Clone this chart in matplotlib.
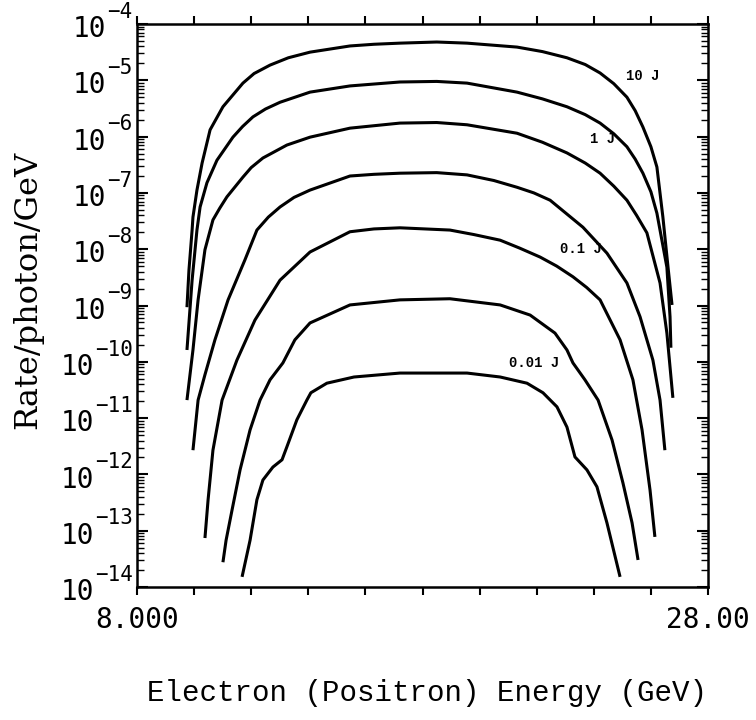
import numpy as np
import matplotlib.pyplot as plt
from matplotlib.ticker import LogLocator, NullFormatter

# energy (GeV) and log10(rate), one pair per curve (top to bottom)
e1 = [9.75, 9.82, 9.93, 9.96, 10.10, 10.28, 10.56, 11.01, 11.71, 12.10, 12.66, 13.30, 14.06, 15.46, 16.30,
      17.21, 18.5, 19.56, 21.31, 22.20, 23.06, 23.70, 24.22, 24.70, 25.16, 25.45, 25.72, 26.00, 26.21, 26.42,
      26.60, 26.74]
r1 = [-9.03, -8.37, -7.66, -7.43, -6.95, -6.47, -5.88, -5.47, -5.05, -4.88, -4.73, -4.60, -4.50, -4.39, -4.36,
      -4.34, -4.32, -4.34, -4.41, -4.49, -4.60, -4.72, -4.87, -5.06, -5.30, -5.54, -5.83, -6.18, -6.54, -7.43,
      -8.32, -8.99]

e2 = [9.75, 9.93, 10.10, 10.21, 10.45, 10.80, 11.36, 11.70, 12.06, 12.50, 13.01, 14.06, 15.46, 17.21, 18.5,
      19.56, 21.31, 22.20, 23.06, 23.70, 24.22, 24.70, 25.16, 25.45, 25.72, 26.00, 26.21, 26.56, 26.67, 26.70]
r2 = [-9.79, -8.55, -7.66, -7.25, -6.82, -6.42, -6.01, -5.82, -5.65, -5.51, -5.39, -5.21, -5.10, -5.03, -5.02,
      -5.05, -5.21, -5.33, -5.47, -5.61, -5.76, -5.95, -6.18, -6.40, -6.65, -6.98, -7.36, -8.32, -9.20, -9.75]

e3 = [9.75, 9.96, 10.14, 10.38, 10.66, 10.90, 11.15, 11.71, 12.00, 12.41, 13.25, 14.06, 15.46, 17.21, 18.5,
      19.56, 21.31, 22.20, 23.06, 23.70, 24.22, 24.70, 25.16, 25.50, 25.86, 26.32, 26.56, 26.77]
r3 = [-10.68, -9.79, -8.90, -8.01, -7.48, -7.27, -7.07, -6.72, -6.55, -6.38, -6.15, -6.01, -5.85, -5.76, -5.75,
      -5.79, -5.94, -6.10, -6.29, -6.47, -6.65, -6.88, -7.13, -7.40, -7.71, -8.60, -9.49, -10.64]

e4 = [9.96, 10.14, 10.38, 10.73, 11.19, 11.78, 12.20, 12.60, 13.01, 13.50, 14.06, 15.46, 16.30, 17.21, 18.5,
      19.56, 20.50, 21.31, 21.90, 22.47, 23.62, 24.46, 25.16, 25.62, 26.07, 26.32, 26.49]
r4 = [-11.57, -10.68, -10.23, -9.61, -8.90, -8.19, -7.66, -7.43, -7.25, -7.08, -6.95, -6.70, -6.67, -6.65, -6.64,
      -6.68, -6.78, -6.90, -7.00, -7.13, -7.61, -8.07, -8.60, -9.20, -9.97, -10.68, -11.57]

e5 = [10.38, 10.49, 10.66, 10.98, 11.50, 12.13, 13.01, 14.06, 15.46, 16.30, 17.21, 18.96, 19.80, 20.72, 21.40,
      22.12, 22.70, 23.27, 23.75, 24.22, 24.92, 25.37, 25.69, 25.97, 26.14]
r5 = [-13.13, -12.45, -11.57, -10.68, -9.97, -9.26, -8.55, -8.05, -7.69, -7.64, -7.62, -7.66, -7.74, -7.84, -7.98,
      -8.14, -8.30, -8.49, -8.68, -8.90, -9.61, -10.32, -11.21, -12.28, -13.11]

e6 = [11.01, 11.12, 11.33, 11.61, 11.96, 12.31, 12.66, 13.11, 13.53, 14.06, 15.46, 17.21, 18.96, 20.72,
      21.77, 22.64, 23.06, 23.27, 23.69, 24.15, 24.64, 25.02, 25.34, 25.55]
r6 = [-13.56, -13.17, -12.63, -11.92, -11.21, -10.68, -10.32, -10.02, -9.61, -9.31, -8.99, -8.90, -8.88, -8.99,
      -9.17, -9.49, -9.79, -10.02, -10.32, -10.68, -11.39, -12.15, -12.86, -13.52]

e7 = [11.68, 11.96, 12.20, 12.41, 12.76, 13.08, 13.25, 13.60, 13.95, 14.09, 14.65, 15.60, 17.21, 19.56,
      20.72, 21.66, 22.22, 22.71, 23.06, 23.34, 23.76, 24.11, 24.46, 24.92]
r7 = [-13.82, -13.17, -12.45, -12.10, -11.87, -11.74, -11.51, -11.03, -10.68, -10.55, -10.38, -10.27, -10.20, -10.20,
      -10.27, -10.38, -10.55, -10.80, -11.16, -11.69, -11.92, -12.22, -12.86, -13.82]

curves = [(e1, r1), (e2, r2), (e3, r3), (e4, r4), (e5, r5), (e6, r6), (e7, r7)]

# curve annotations: text, energy, log10(rate)
labels = ["10 J", "1 J", "0.1 J", "0.01 J"]
label_e = [25.72, 24.32, 23.55, 21.91]
label_r = [-4.92, -6.04, -8.00, -10.02]

decades = list(range(-14, -3))
x_ticks = list(range(8, 29, 2))
x_ticklabels = ["8.000"] + [""] * 9 + ["28.00"]

fig = plt.figure(figsize=(7.56, 7.2), dpi=100)
ax = fig.add_axes([137 / 756, 1 - 587 / 720, 571 / 756, 563 / 720])

for e, r in curves:
    ax.plot(e, 10.0 ** np.array(r), color="black", lw=2.2, solid_joinstyle="round", solid_capstyle="butt")

for t, e, r in zip(labels, label_e, label_r):
    ax.text(e, 10.0 ** r, t, ha="center", va="center", fontsize=10, family="Liberation Mono", weight="bold")

ax.set_yscale("log")
ax.set_xlim(8, 28)
ax.set_ylim(1e-14, 1e-4)

### x axis ###
ax.set_xticks(x_ticks)
ax.set_xticklabels(x_ticklabels)
ax.tick_params(axis="x", which="major", direction="out", length=6, width=1.5, top=True,
               labelsize=20, labelfontfamily="DejaVu Sans Mono", pad=8)

### y axis: ticks inside, labels drawn by hand ###
ax.yaxis.set_major_locator(LogLocator(base=10, numticks=20))
ax.yaxis.set_minor_locator(LogLocator(base=10, subs=np.arange(2, 10), numticks=20))
ax.yaxis.set_major_formatter(NullFormatter())
ax.yaxis.set_minor_formatter(NullFormatter())
ax.tick_params(axis="y", which="major", direction="in", length=8, width=1.5, left=True, right=True)
ax.tick_params(axis="y", which="minor", direction="in", length=5, width=1.0, left=True, right=True)

exp_size = 15
for n in decades:
    exp = "\u2212" + str(-n)
    ax.annotate(exp, xy=(0, 10.0 ** n), xycoords=("axes fraction", "data"), xytext=(-3, 4.5),
                textcoords="offset points", ha="right", va="baseline", fontsize=exp_size,
                family="DejaVu Sans Mono", annotation_clip=False)
    w = len(exp) * 0.602 * exp_size
    ax.annotate("10", xy=(0, 10.0 ** n), xycoords=("axes fraction", "data"), xytext=(-4 - w, -9.5),
                textcoords="offset points", ha="right", va="baseline", fontsize=20,
                family="DejaVu Sans Mono", annotation_clip=False)

for s in ax.spines.values():
    s.set_linewidth(1.8)

fig.text(427 / 756, 1 - 693 / 720, "Electron (Positron) Energy (GeV)", ha="center", va="center",
         family="Liberation Mono", fontsize=21)
fig.text(28 / 756, 1 - 290 / 720, "Rate/photon/GeV", rotation=90, ha="center", va="center",
         family="DejaVu Serif", fontsize=23)

fig.savefig("out.png", dpi=100)
